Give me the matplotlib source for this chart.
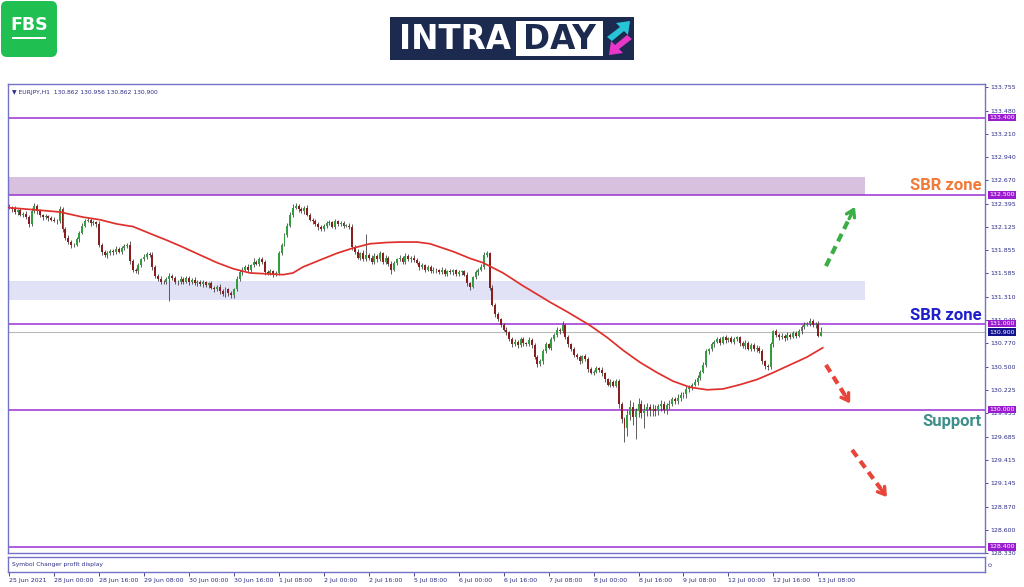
import matplotlib
matplotlib.use("Agg")
import matplotlib.pyplot as plt
import matplotlib.transforms as mtransforms
from matplotlib.patches import Rectangle, FancyBboxPatch, Polygon
import numpy as np

W, H = 1024, 587

# ---------------- data ----------------
header_text = "\u25BC EURJPY,H1  130.862 130.956 130.862 130.900"
first_open = 132.36
closes = [
    132.35, 132.33, 132.30, 132.32, 132.27, 132.28, 132.24, 132.16, 132.31, 132.37,
    132.31, 132.26, 132.24, 132.25, 132.23, 132.21, 132.20, 132.19, 132.33, 132.10,
    132.00, 131.95, 131.91, 131.92, 131.98, 132.06, 132.14, 132.20, 132.21, 132.17,
    132.18, 132.16, 131.92, 131.84, 131.80, 131.82, 131.85, 131.83, 131.87, 131.84,
    131.88, 131.90, 131.92, 131.73, 131.63, 131.61, 131.68, 131.75, 131.78, 131.81,
    131.80, 131.66, 131.56, 131.52, 131.49, 131.48, 131.52, 131.56, 131.53, 131.49,
    131.48, 131.52, 131.49, 131.53, 131.48, 131.51, 131.47, 131.49, 131.46, 131.48,
    131.45, 131.47, 131.42, 131.40, 131.43, 131.38, 131.34, 131.40, 131.36, 131.33,
    131.40, 131.52, 131.60, 131.63, 131.66, 131.62, 131.68, 131.72, 131.70, 131.75,
    131.72, 131.60, 131.59, 131.61, 131.57, 131.59, 131.82, 131.92, 132.03, 132.14,
    132.27, 132.35, 132.37, 132.33, 132.31, 132.35, 132.27, 132.21, 132.19, 132.16,
    132.12, 132.10, 132.14, 132.17, 132.18, 132.13, 132.19, 132.16, 132.17, 132.14,
    132.14, 132.12, 131.89, 131.84, 131.77, 131.82, 131.75, 131.80, 131.77, 131.72,
    131.79, 131.75, 131.82, 131.72, 131.77, 131.70, 131.63, 131.71, 131.75, 131.77,
    131.72, 131.79, 131.75, 131.77, 131.74, 131.71, 131.66, 131.68, 131.63, 131.66,
    131.61, 131.63, 131.62, 131.60, 131.63, 131.58, 131.61, 131.60, 131.62, 131.58,
    131.60, 131.61, 131.57, 131.47, 131.43, 131.54, 131.60, 131.63, 131.66, 131.80,
    131.82, 131.42, 131.22, 131.11, 131.05, 130.99, 130.93, 130.90, 130.82, 130.76,
    130.79, 130.75, 130.82, 130.77, 130.76, 130.81, 130.75, 130.61, 130.53, 130.56,
    130.68, 130.76, 130.72, 130.82, 130.87, 130.93, 130.91, 130.98, 130.84, 130.76,
    130.70, 130.64, 130.61, 130.56, 130.62, 130.59, 130.47, 130.43, 130.44, 130.48,
    130.46, 130.42, 130.35, 130.29, 130.32, 130.28, 130.33, 130.06, 129.89, 129.79,
    129.94, 130.03, 129.91, 129.98, 130.06, 129.96, 130.00, 130.03, 129.99, 130.01,
    129.98, 130.04, 130.06, 130.00, 130.05, 130.07, 130.12, 130.10, 130.14, 130.17,
    130.18, 130.24, 130.26, 130.29, 130.32, 130.37, 130.44, 130.52, 130.68, 130.70,
    130.76, 130.79, 130.82, 130.78, 130.84, 130.81, 130.83, 130.79, 130.82, 130.84,
    130.77, 130.74, 130.78, 130.71, 130.75, 130.70, 130.72, 130.68, 130.56, 130.51,
    130.49, 130.76, 130.91, 130.87, 130.84, 130.86, 130.83, 130.87, 130.85, 130.89,
    130.86, 130.91, 130.96, 130.99, 131.00, 131.03, 130.98, 131.00, 130.862, 130.900,
]
wick_up = [
    .03, .02, .04, .02, .03, .02, .03, .02, .04, .03,
    .02, .03, .02, .03, .02, .02, .03, .02, .04, .03,
    .02, .03, .02, .02, .03, .02, .03, .02, .03, .02,
    .03, .02, .04, .02, .02, .03, .02, .02, .03, .02,
    .02, .03, .02, .04, .02, .02, .03, .02, .03, .02,
    .03, .04, .02, .02, .03, .02, .02, .03, .02, .02,
    .02, .03, .02, .03, .02, .02, .03, .02, .02, .03,
    .02, .02, .03, .02, .02, .03, .02, .03, .02, .02,
    .02, .03, .02, .03, .02, .03, .02, .04, .02, .03,
    .03, .02, .02, .03, .02, .02, .03, .02, .03, .03,
    .03, .04, .04, .02, .03, .02, .03, .02, .02, .03,
    .02, .03, .02, .02, .03, .02, .03, .02, .02, .02,
    .02, .03, .04, .02, .03, .02, .04, .24, .02, .03,
    .03, .02, .03, .02, .03, .02, .03, .02, .02, .03,
    .02, .03, .02, .02, .03, .02, .02, .03, .02, .02,
    .02, .03, .02, .02, .03, .02, .02, .03, .02, .02,
    .03, .02, .02, .03, .02, .02, .03, .02, .03, .04,
    .03, .02, .03, .02, .03, .02, .02, .03, .02, .02,
    .03, .02, .03, .02, .02, .03, .02, .03, .02, .03,
    .02, .03, .02, .03, .02, .03, .02, .05, .02, .03,
    .02, .03, .02, .03, .02, .03, .02, .03, .02, .03,
    .02, .03, .02, .02, .03, .02, .03, .02, .03, .02,
    .05, .08, .06, .04, .07, .05, .06, .05, .04, .05,
    .04, .03, .05, .04, .03, .04, .03, .03, .04, .03,
    .03, .04, .03, .02, .03, .03, .02, .03, .03, .02,
    .03, .02, .03, .03, .02, .03, .02, .03, .03, .02,
    .02, .03, .03, .02, .03, .02, .03, .02, .03, .02,
    .02, .03, .02, .03, .02, .03, .02, .03, .02, .03,
    .02, .03, .02, .03, .02, .04, .03, .02, .03, .056,
]
wick_down = [
    .02, .03, .02, .03, .02, .03, .02, .04, .02, .02,
    .03, .02, .03, .02, .03, .02, .02, .03, .02, .03,
    .03, .02, .03, .02, .02, .03, .02, .02, .02, .03,
    .02, .03, .03, .04, .02, .03, .02, .03, .02, .02,
    .03, .02, .02, .03, .03, .02, .03, .02, .02, .03,
    .02, .03, .03, .02, .03, .02, .02, .26, .02, .03,
    .03, .02, .03, .02, .03, .02, .02, .03, .02, .03,
    .02, .03, .02, .03, .02, .03, .02, .03, .04, .03,
    .03, .02, .02, .03, .02, .02, .03, .02, .02, .03,
    .02, .03, .02, .02, .03, .02, .02, .02, .02, .02,
    .02, .03, .02, .03, .02, .03, .02, .02, .03, .02,
    .03, .02, .02, .03, .02, .02, .03, .02, .02, .03,
    .02, .02, .03, .03, .02, .03, .02, .02, .03, .02,
    .02, .03, .02, .03, .02, .03, .05, .02, .03, .02,
    .03, .02, .02, .03, .02, .02, .03, .02, .03, .02,
    .02, .02, .03, .02, .02, .03, .02, .02, .03, .02,
    .02, .03, .02, .03, .04, .02, .02, .03, .02, .02,
    .02, .03, .02, .03, .02, .03, .02, .03, .02, .03,
    .02, .03, .02, .03, .02, .02, .03, .02, .03, .02,
    .03, .02, .02, .03, .02, .02, .03, .02, .02, .03,
    .02, .03, .02, .03, .02, .02, .03, .02, .03, .02,
    .02, .03, .03, .02, .03, .02, .02, .04, .05, .17,
    .10, .06, .09, .25, .07, .06, .17, .08, .06, .07,
    .05, .04, .06, .04, .05, .04, .03, .04, .03, .04,
    .03, .04, .03, .03, .02, .03, .03, .02, .03, .03,
    .02, .03, .02, .03, .02, .03, .02, .02, .03, .02,
    .03, .02, .03, .02, .03, .02, .03, .02, .03, .04,
    .03, .02, .03, .02, .03, .02, .03, .02, .03, .02,
    .03, .02, .03, .02, .02, .03, .02, .03, .02, .00,
]

ma_bars = [0, 7.4, 18.1, 26.3, 32.3, 38.4, 44.1, 50.1, 56.2, 61.9, 67.9, 74.0, 79.7, 85.7,
           91.8, 97.5, 101.0, 104.6, 110.6, 116.7, 122.4, 128.4, 134.5, 139.1, 145.2, 149.8,
           158.0, 164.0, 168.6, 175.8, 182.9, 189.0, 192.5, 198.5, 206.7, 212.8, 218.5, 224.5,
           230.6, 236.3, 242.3, 248.4, 254.1, 260.1, 266.2, 271.9, 277.9, 283.9, 289.6]
ma_values = [132.35, 132.33, 132.30, 132.24, 132.21, 132.16, 132.13, 132.05, 131.97, 131.89,
             131.80, 131.71, 131.64, 131.59, 131.58, 131.57, 131.59, 131.66, 131.74, 131.82,
             131.88, 131.93, 131.945, 131.95, 131.95, 131.93, 131.84, 131.76, 131.71, 131.59,
             131.44, 131.32, 131.25, 131.14, 130.98, 130.84, 130.69, 130.55, 130.43, 130.33,
             130.26, 130.23, 130.24, 130.29, 130.35, 130.43, 130.52, 130.61, 130.72]

levels = [133.400, 132.500, 131.000, 130.000, 128.400]
current_price = 130.900
zone_upper = (132.50, 132.71)
zone_middle = (131.27, 131.50)
zone_end_bar = 304.6

ytick_values = [133.755, 133.480, 133.210, 132.940, 132.670, 132.395, 132.125, 131.855,
                131.585, 131.310, 131.040, 130.770, 130.500, 130.225, 129.955, 129.685,
                129.415, 129.145, 128.870, 128.600, 128.330]
xtick_labels = ["25 Jun 2021", "28 Jun 00:00", "28 Jun 16:00", "29 Jun 08:00", "30 Jun 00:00",
                "30 Jun 16:00", "1 Jul 08:00", "2 Jul 00:00", "2 Jul 16:00", "5 Jul 08:00",
                "6 Jul 00:00", "6 Jul 16:00", "7 Jul 08:00", "8 Jul 00:00", "8 Jul 16:00",
                "9 Jul 08:00", "12 Jul 00:00", "12 Jul 16:00", "13 Jul 08:00"]
bars_per_label = 16

# arrows: (start bar, start price, end bar, end price)
arrow_up = (290.7, 131.67, 301.0, 132.36)
arrow_down1 = (290.7, 130.52, 299.3, 130.07)
arrow_down2 = (300.0, 129.53, 312.4, 128.98)

# ---------------- figure ----------------
def fx(x):
    return x / W

def fy(y):
    return 1 - y / H

fig = plt.figure(figsize=(W / 100, H / 100), dpi=100)
fig.patch.set_facecolor("white")

FRAME = "#7272c8"
NAVY = "#2c2c86"
LEVEL = "#9a2fd2"

ax = fig.add_axes([fx(8), fy(553), fx(985) - fx(8), fy(84) - fy(553)])
sub = fig.add_axes([fx(8), fy(572), fx(985) - fx(8), fy(557) - fy(572)], sharex=ax)

ax.set_xlim(-0.4, 347.3)
ax.set_ylim(128.33, 133.79)

n = len(closes)
idx = np.arange(n)
c = np.array(closes)
o = np.concatenate([[first_open], c[:-1]])
hi = np.maximum(o, c) + np.array(wick_up)
lo = np.minimum(o, c) - np.array(wick_down)

# zones
ax.add_patch(Rectangle((-0.4, zone_upper[0]), zone_end_bar + 0.4, zone_upper[1] - zone_upper[0],
                       facecolor="#d8c1de", edgecolor="none", zorder=0.5))
ax.add_patch(Rectangle((-0.4, zone_middle[0]), zone_end_bar + 0.4, zone_middle[1] - zone_middle[0],
                       facecolor="#e2e2f6", edgecolor="none", zorder=0.5))

# levels
for lv in levels:
    ax.axhline(lv, color=LEVEL, lw=1.1, zorder=1)
ax.axhline(current_price, color="#b8b8b8", lw=0.8, zorder=1)

# candles
ax.vlines(idx, lo, hi, colors="#333333", lw=0.55, zorder=2)
body_bottom = np.minimum(o, c)
body_h = np.maximum(np.abs(c - o), 0.007)
colors = np.where(c >= o, "#329e40", "#8a1d1d")
ax.bar(idx, body_h, bottom=body_bottom, width=0.7, color=colors, linewidth=0, zorder=3)

# moving average
ax.plot(ma_bars, ma_values, color="#e0302c", lw=1.25, zorder=4,
        solid_capstyle="round", solid_joinstyle="round")

# right axis
ax.yaxis.tick_right()
ax.set_yticks(ytick_values)
ax.set_yticklabels([f"{v:.3f}" for v in ytick_values])
ax.tick_params(axis="y", direction="out", length=2.5, width=0.6, colors=NAVY,
               labelsize=4.5, pad=1.5)
ax.tick_params(axis="x", bottom=False, labelbottom=False)
for s in ax.spines.values():
    s.set_color(FRAME)
    s.set_linewidth(1.0)

# price boxes
btrans = mtransforms.blended_transform_factory(ax.transAxes, ax.transData)
for lv in levels:
    ax.text(1.004, lv, f"{lv:.3f}", transform=btrans, ha="left", va="center", fontsize=4.5,
            color="white", clip_on=False, zorder=20,
            bbox=dict(boxstyle="square,pad=0.2", fc="#9a1ccf", ec="none"))
ax.text(1.004, current_price, f"{current_price:.3f}", transform=btrans, ha="left", va="center",
        fontsize=4.5, color="white", clip_on=False, zorder=20,
        bbox=dict(boxstyle="square,pad=0.2", fc="#12128c", ec="none"))

# header
ax.text(0.004, 0.988, header_text, transform=ax.transAxes, ha="left", va="top",
        fontsize=4.3, color=NAVY)

# annotation texts
ax.text(0.997, 132.61, "SBR zone", transform=btrans, ha="right", va="center",
        fontsize=12, fontweight="bold", family=["Roboto", "DejaVu Sans"], color="#f07a38", zorder=10)
ax.text(0.997, 131.09, "SBR zone", transform=btrans, ha="right", va="center",
        fontsize=12, fontweight="bold", family=["Roboto", "DejaVu Sans"], color="#1e1ecc", zorder=10)
ax.text(0.997, 129.86, "Support", transform=btrans, ha="right", va="center",
        fontsize=12, fontweight="bold", family=["Roboto", "DejaVu Sans"], color="#3d8f8a", zorder=10)

# dashed arrows
def dashed_arrow(a, color):
    x0, y0, x1, y1 = a
    t = 0.82
    ax.plot([x0, x0 + t * (x1 - x0)], [y0, y0 + t * (y1 - y0)], color=color, lw=3,
            ls=(0, (2, 1.3)), solid_capstyle="butt", dash_capstyle="butt", zorder=6)
    ax.annotate("", xy=(x1, y1), xytext=(x0 + 0.8 * (x1 - x0), y0 + 0.8 * (y1 - y0)),
                arrowprops=dict(arrowstyle="->,head_length=0.5,head_width=0.32",
                                color=color, lw=2.4, shrinkA=0, shrinkB=0), zorder=6)

dashed_arrow(arrow_up, "#3cae46")
dashed_arrow(arrow_down1, "#e8443a")
dashed_arrow(arrow_down2, "#e8443a")

# sub window
sub.set_ylim(0, 1)
sub.set_yticks([])
for s in sub.spines.values():
    s.set_color(FRAME)
    s.set_linewidth(1.0)
sub.text(0.004, 0.5, "Symbol Changer profit display", transform=sub.transAxes, ha="left",
         va="center", fontsize=4.3, color=NAVY)
sub.text(1.004, 0.5, "0", transform=sub.transAxes, ha="left", va="center", fontsize=4.3,
         color=NAVY, rotation=90, clip_on=False)
xticks = [i * bars_per_label for i in range(len(xtick_labels))]
sub.set_xticks(xticks)
sub.set_xticklabels(xtick_labels)
sub.tick_params(axis="x", direction="out", length=3, width=0.6, colors=NAVY, labelsize=4.5, pad=1.2)
for lbl in sub.get_xticklabels():
    lbl.set_ha("left")

# ---------------- logos ----------------
# FBS
lax = fig.add_axes([0, fy(58), fx(58), 58 / H])
lax.set_xlim(0, 58)
lax.set_ylim(58, 0)
lax.axis("off")
lax.add_patch(FancyBboxPatch((1, 1), 56, 56, boxstyle="round,pad=0,rounding_size=6",
                             fc="#1fbf52", ec="none"))
lax.text(29, 25, "FBS", ha="center", va="center", fontsize=12.5, fontweight="bold", color="white")
lax.add_patch(Rectangle((12, 36.5), 34, 2.6, fc="white", ec="none"))

# INTRADAY
iax = fig.add_axes([fx(389), fy(62), fx(636) - fx(389), 48 / H])
iax.set_xlim(389, 636)
iax.set_ylim(62, 14)
iax.axis("off")
iax.add_patch(Rectangle((390, 17), 244, 43, fc="#1c2a50", ec="none"))
iax.add_patch(Rectangle((516, 21), 87, 35, fc="white", ec="none"))
iax.text(455, 39.5, "INTRA", ha="center", va="center", fontsize=23.5, fontweight="bold", color="white")
iax.text(559.5, 39.5, "DAY", ha="center", va="center", fontsize=23.5, fontweight="bold", color="#1c2a50")
iax.add_patch(Polygon([(607, 37), (620, 27), (616, 23), (630, 21), (628, 35), (624, 31), (612, 41)],
                      closed=True, fc="#27c4d8", ec="none"))
iax.add_patch(Polygon([(632, 39), (619, 49), (623, 53), (609, 55), (611, 41), (615, 45), (627, 35)],
                      closed=True, fc="#e836c8", ec="none"))

fig.savefig("out.png", dpi=100, facecolor="white")
